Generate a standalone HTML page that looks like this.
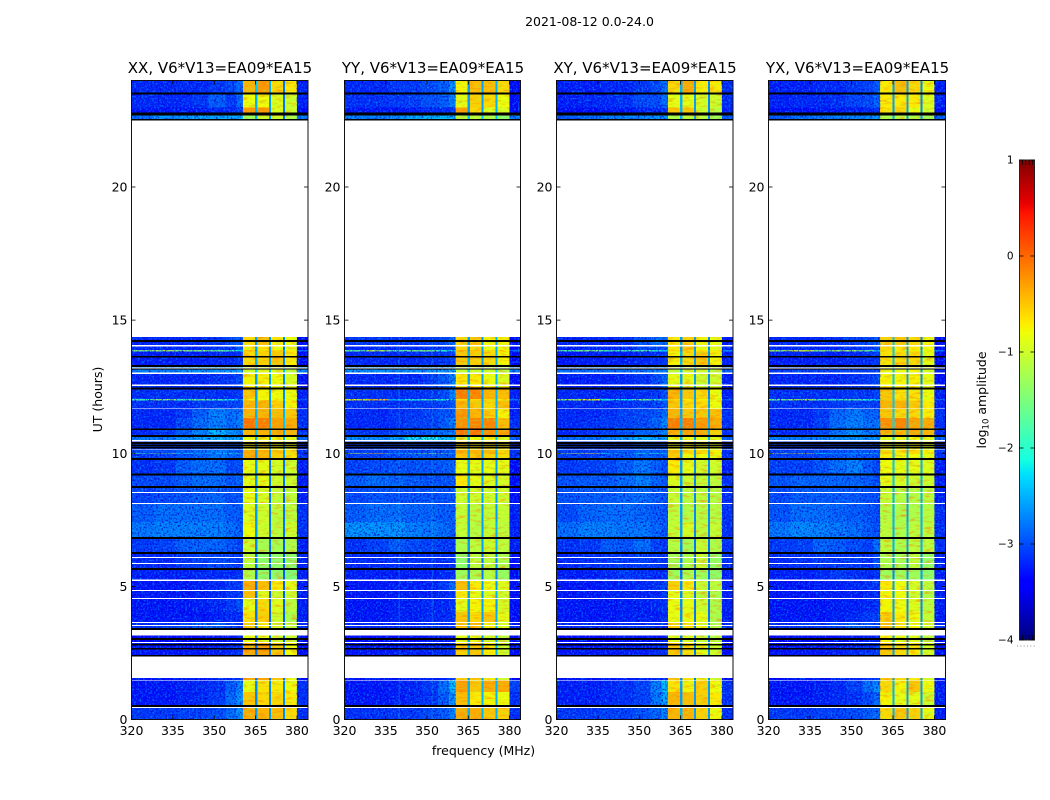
<!DOCTYPE html>
<html lang="en">
<head>
<meta charset="utf-8">
<title>2021-08-12 waterfall</title>
<style>
html,body{margin:0;padding:0;background:#fff;width:1050px;height:800px;overflow:hidden}
svg{display:block}
text{font-family:"DejaVu Sans","Liberation Sans",sans-serif;fill:#000}
</style>
</head>
<body>
<svg id="figure" width="1050" height="800" viewBox="0 0 1050 800" xmlns="http://www.w3.org/2000/svg">
  <defs>
    <filter id="grain-dark" x="0" y="0" width="1" height="1" color-interpolation-filters="sRGB">
      <feTurbulence type="fractalNoise" baseFrequency="0.55" numOctaves="2" seed="3"/>
      <feColorMatrix type="matrix" values="0 0 0 0 0  0 0 0 0 0  0 0 0 0 0.8  2.4 0 0 0 -1.05"/>
    </filter>
    <filter id="grain-light" x="0" y="0" width="1" height="1" color-interpolation-filters="sRGB">
      <feTurbulence type="fractalNoise" baseFrequency="0.55" numOctaves="2" seed="11"/>
      <feColorMatrix type="matrix" values="0 0 0 0 0  0 0 0 0 0.65  0 0 0 0 1  0 2.2 0 0 -1.1"/>
    </filter>
    <filter id="grain-warm" x="0" y="0" width="1" height="1" color-interpolation-filters="sRGB">
      <feTurbulence type="fractalNoise" baseFrequency="0.12 0.4" numOctaves="2" seed="7"/>
      <feColorMatrix type="matrix" values="0 0 0 0 1  0 0 0 0 0.45  0 0 0 0 0  1.6 0 0 0 -0.8"/>
    </filter>
    <filter id="grain-cool" x="0" y="0" width="1" height="1" color-interpolation-filters="sRGB">
      <feTurbulence type="fractalNoise" baseFrequency="0.3 0.5" numOctaves="2" seed="19"/>
      <feColorMatrix type="matrix" values="0 0 0 0 0.45  0 0 0 0 1  0 0 0 0 0.35  0 1.5 0 0 -0.78"/>
    </filter>
  </defs>
  <text x="589.5" y="26" text-anchor="middle" font-size="12.5">2021-08-12 0.0-24.0</text>
  <text x="220" y="73" text-anchor="middle" font-size="15">XX, V6*V13=EA09*EA15</text>
  <text x="433" y="73" text-anchor="middle" font-size="15">YY, V6*V13=EA09*EA15</text>
  <text x="645" y="73" text-anchor="middle" font-size="15">XY, V6*V13=EA09*EA15</text>
  <text x="857.5" y="73" text-anchor="middle" font-size="15">YX, V6*V13=EA09*EA15</text>
  <text transform="translate(102,399.5) rotate(-90)" text-anchor="middle" font-size="12.5">UT (hours)</text>
  <text x="483.5" y="755" text-anchor="middle" font-size="12.5">frequency (MHz)</text>
  <text transform="translate(986,400) rotate(-90)" text-anchor="middle" font-size="12.5">log<tspan font-size="8.5" dy="2.5">10</tspan><tspan dy="-2.5"> amplitude</tspan></text>
  <g id="panels"></g>
  <g id="colorbar"></g>
</svg>
<script>
// Time-row edges in UT hours (top to bottom)
const timeEdges = [24,23.52,22.99,22.80,14.36,14.02,13.87,13.83,13.31,13.04,12.48,12.03,11.99,11.69,11.32,10.94,10.68,10.46,10.12,10.00,9.97,9.82,9.25,8.77,8.13,7.41,6.85,6.29,5.69,5.24,4.86,4.56,4.04,3.66,3.40,2.91,1.48,1.03,0.54,0];
// Frequency-column edges in MHz
const freqEdges = [320,328,336,342,348,354,358,360.4,364.8,365.6,369.9,370.6,374.9,375.7,380,384];
// Per-column correction of the block estimates, in log10 amplitude
const columnBias = [-0.2,-0.2,-0.2,-0.2,-0.2,-0.2,-0.2,0,-0.6,0,-0.6,0,-0.5,0,-0.15];
// Tick labels
const freqTicks = [320,335,350,365,380];
const timeTicks = [0,5,10,15,20];
const colorTicks = [1,0,-1,-2,-3,-4];
// Faint narrow-band interference seen only in the YY panel, MHz
const yyInterference = [339.7,351.7];
// Flagged time ranges [start, end] in UT hours
const blackFlags = [[23.54,23.49],[22.80,22.70],[22.56,22.52],[14.25,14.20],[13.65,13.61],[13.31,13.26],[13.19,13.17],[12.47,12.42],[10.93,10.89],[10.68,10.64],[10.42,10.37],[10.32,10.28],[10.23,10.20],[9.82,9.77],[9.24,9.19],[8.77,8.72],[6.85,6.80],[6.29,6.24],[5.69,5.64],[3.43,3.39],[3.06,3.01],[2.83,2.80],[2.68,2.65],[2.43,2.38],[0.54,0.50]];
const whiteFlags = [[22.52,14.36],[14.06,14.01],[13.23,13.19],[13.04,12.97],[12.58,12.53],[11.69,11.66],[10.49,10.45],[10.15,10.12],[8.54,8.50],[8.13,8.09],[6.10,6.06],[5.87,5.84],[5.25,5.21],[4.86,4.82],[4.56,4.52],[3.66,3.62],[3.55,3.51],[3.37,3.16],[2.91,2.87],[2.37,1.55],[1.49,1.46],[0.47,0.43]];

// log10 amplitude: one row per time interval, one value per frequency column
const xxCells = [
[-3.0,-3.0,-3.0,-3.0,-2.9,-2.8,-2.6,-0.4,-1.8,-0.25,-1.9,-0.6,-2.3,-0.7,-3.1],
[-3.0,-3.0,-3.0,-2.9,-2.7,-2.9,-2.6,-0.8,-1.9,-0.8,-2.0,-0.9,-2.3,-1.0,-3.1],
[-3.1,-3.1,-3.1,-3.1,-3.0,-3.0,-2.9,-0.25,-1.9,-0.25,-2.0,-0.9,-2.3,-1.0,-3.2],
[-2.6,-2.4,-2.4,-2.3,-2.3,-2.3,-2.2,-1.3,-1.9,-1.0,-2.0,-1.0,-2.3,-1.2,-2.6],
[-3.0,-3.0,-3.0,-3.0,-2.9,-2.8,-2.7,-0.6,-2.0,-0.45,-2.0,-0.7,-2.2,-0.8,-3.2],
[-3.0,-3.0,-3.0,-3.0,-2.9,-2.9,-2.8,-0.7,-2.0,-0.7,-2.0,-0.8,-2.3,-0.9,-3.2],
[-1.2,-1.0,-1.2,-1.2,-1.4,-1.6,-2.0,-0.5,-2.0,-0.6,-2.0,-0.6,-2.0,-0.7,-2.6],
[-3.05,-3.05,-3.05,-3.05,-3.0,-3.0,-2.9,-0.6,-1.9,-0.55,-2.0,-0.5,-2.2,-0.7,-3.2],
[-2.5,-2.5,-2.4,-2.4,-2.4,-2.4,-2.3,-1.0,-1.7,-0.9,-1.8,-0.9,-1.9,-1.1,-2.5],
[-3.0,-3.0,-3.0,-3.0,-2.95,-2.9,-2.8,-0.75,-2.0,-0.75,-2.0,-0.8,-2.2,-0.95,-3.2],
[-2.95,-2.95,-2.95,-2.95,-2.95,-2.95,-2.9,-0.5,-2.0,-0.75,-2.0,-0.8,-2.2,-0.8,-3.1],
[-1.6,-1.2,-1.6,-1.4,-1.6,-2.0,-2.3,-0.7,-2.0,-0.8,-2.0,-0.8,-2.0,-0.8,-2.8],
[-2.95,-2.95,-2.95,-2.9,-2.85,-2.85,-2.8,-0.4,-1.9,-0.4,-2.0,-0.55,-2.2,-0.75,-3.1],
[-3.0,-3.0,-2.9,-2.7,-2.5,-2.6,-2.5,-0.4,-1.9,-0.4,-2.0,-0.45,-2.0,-0.5,-3.0],
[-3.0,-3.0,-2.8,-2.6,-2.5,-2.6,-2.5,-0.05,-1.8,-0.1,-1.9,-0.3,-1.9,-0.35,-3.0],
[-3.0,-2.9,-2.7,-2.5,-2.2,-2.4,-2.5,-0.4,-1.8,-0.4,-1.9,-0.35,-2.0,-0.4,-3.0],
[-2.5,-2.5,-2.4,-2.3,-2.2,-2.3,-2.3,-0.8,-1.9,-0.75,-2.0,-0.8,-2.0,-0.85,-2.7],
[-2.9,-2.9,-2.9,-2.8,-2.7,-2.8,-2.8,-0.7,-2.0,-0.7,-2.0,-0.75,-2.1,-0.8,-3.0],
[-2.8,-2.8,-2.7,-2.6,-2.5,-2.6,-2.7,-0.35,-2.0,-0.4,-2.0,-0.5,-2.1,-0.6,-3.0],
[-1.4,-1.0,-2.0,-2.2,-2.2,-1.8,-1.6,-0.4,-2.0,-0.45,-2.0,-0.5,-2.1,-0.6,-3.0],
[-2.9,-2.85,-2.75,-2.65,-2.55,-2.65,-2.7,-0.35,-2.0,-0.4,-2.0,-0.55,-2.1,-0.65,-3.0],
[-2.95,-2.9,-2.7,-2.6,-2.6,-2.8,-2.8,-0.85,-2.0,-0.85,-2.2,-0.95,-2.3,-1.0,-3.1],
[-2.8,-2.8,-2.7,-2.6,-2.6,-2.7,-2.7,-0.85,-2.0,-0.85,-2.2,-1.0,-2.3,-1.0,-3.1],
[-2.85,-2.8,-2.75,-2.7,-2.65,-2.75,-2.75,-0.85,-2.0,-0.95,-2.2,-1.05,-2.4,-1.1,-3.1],
[-2.7,-2.6,-2.6,-2.6,-2.6,-2.7,-2.7,-0.9,-2.0,-1.0,-2.2,-1.1,-2.3,-1.1,-3.0],
[-2.55,-2.5,-2.5,-2.5,-2.5,-2.6,-2.7,-0.8,-2.0,-1.0,-2.2,-1.1,-2.3,-1.0,-3.0],
[-2.9,-2.85,-2.7,-2.65,-2.65,-2.75,-2.85,-1.0,-2.1,-1.25,-2.2,-1.25,-2.4,-1.2,-3.1],
[-3.0,-3.0,-2.9,-2.85,-2.8,-2.85,-2.9,-1.1,-2.2,-1.4,-2.3,-1.4,-2.4,-1.4,-3.1],
[-3.05,-3.05,-3.05,-3.0,-3.0,-3.0,-2.95,-1.2,-2.3,-1.4,-2.3,-1.4,-2.4,-1.5,-3.1],
[-3.1,-3.1,-3.1,-3.05,-3.0,-2.9,-2.85,-0.35,-2.2,-0.45,-2.3,-0.7,-2.4,-0.85,-3.1],
[-3.1,-3.1,-3.1,-3.05,-3.0,-2.95,-2.9,-0.45,-2.2,-0.9,-2.3,-1.0,-2.4,-1.0,-3.1],
[-3.1,-3.1,-3.1,-3.05,-3.0,-2.9,-2.8,-0.85,-2.2,-0.6,-2.3,-0.9,-2.4,-1.1,-3.1],
[-3.1,-3.1,-3.1,-3.1,-3.05,-3.0,-3.0,-0.65,-2.2,-0.55,-2.3,-1.0,-2.4,-1.2,-3.1],
[-2.95,-2.9,-2.85,-2.7,-2.7,-2.85,-2.95,-0.5,-2.2,-0.7,-2.2,-0.95,-2.3,-1.1,-3.0],
[-3.2,-3.2,-3.2,-3.2,-3.15,-3.1,-3.05,-0.8,-2.2,-0.85,-2.3,-1.0,-2.4,-1.0,-3.2],
[-3.1,-3.1,-3.1,-3.1,-3.05,-3.0,-2.9,-0.35,-2.2,-0.3,-2.2,-0.5,-2.3,-0.8,-3.2],
[-3.1,-3.1,-3.05,-3.0,-2.95,-2.7,-2.5,-0.85,-2.1,-0.65,-2.1,-0.7,-2.2,-0.8,-3.0],
[-3.1,-3.1,-3.05,-3.0,-2.9,-2.6,-2.4,-0.5,-2.1,-0.6,-2.1,-0.6,-2.2,-0.7,-3.0],
[-2.9,-2.9,-2.85,-2.85,-2.8,-2.6,-2.4,-0.35,-2.0,-0.4,-2.0,-0.45,-2.2,-0.6,-3.0]
];
const yyCells = [
[-3.0,-3.0,-2.9,-2.9,-2.8,-2.7,-2.4,-0.75,-2.0,-0.45,-2.0,-0.45,-2.0,-0.6,-3.2],
[-2.95,-2.95,-2.9,-2.85,-2.75,-2.7,-2.5,-0.85,-2.0,-0.55,-2.0,-0.6,-2.0,-0.8,-3.2],
[-3.1,-3.1,-3.1,-3.05,-3.0,-3.0,-2.9,-0.3,-2.0,-0.6,-2.0,-0.9,-2.0,-0.9,-3.2],
[-2.5,-2.5,-2.4,-2.3,-2.2,-2.2,-2.2,-1.1,-1.8,-1.1,-1.8,-1.2,-1.9,-1.4,-2.6],
[-2.9,-2.9,-2.9,-2.9,-2.85,-2.8,-2.6,-0.6,-2.0,-0.5,-2.0,-0.75,-2.0,-0.75,-3.2],
[-3.0,-3.0,-3.0,-3.0,-2.95,-2.9,-2.8,-0.6,-2.0,-0.6,-2.0,-0.8,-2.0,-0.85,-3.2],
[-1.4,-0.9,-1.5,-1.3,-1.3,-1.8,-2.1,-0.5,-2.0,-0.5,-2.0,-0.6,-2.0,-0.7,-2.6],
[-3.0,-3.0,-3.0,-3.0,-2.95,-2.9,-2.85,-0.5,-1.9,-0.55,-2.0,-0.6,-2.0,-0.75,-3.2],
[-2.4,-2.4,-2.4,-2.4,-2.4,-2.35,-2.3,-1.05,-1.7,-1.0,-1.8,-1.0,-1.8,-1.1,-2.5],
[-3.0,-3.0,-3.0,-3.0,-2.9,-2.7,-2.5,-0.7,-2.0,-0.7,-2.0,-0.8,-2.0,-0.9,-3.2],
[-2.95,-2.95,-2.95,-2.95,-2.9,-2.8,-2.5,-0.1,-1.9,-0.15,-2.0,-0.4,-2.0,-0.45,-3.1],
[-0.6,-0.3,-2.2,-1.8,-1.6,-1.8,-2.3,-0.6,-2.0,-0.6,-2.0,-0.6,-2.0,-0.7,-2.6],
[-2.95,-2.95,-2.95,-2.9,-2.9,-2.85,-2.7,-0.4,-1.9,-0.5,-2.0,-0.6,-2.0,-0.45,-3.1],
[-3.0,-3.0,-2.95,-2.9,-2.85,-2.75,-2.7,-0.25,-1.9,-0.4,-2.0,-0.55,-2.0,-0.75,-3.1],
[-3.0,-3.0,-2.95,-2.85,-2.85,-2.7,-2.5,-0.2,-1.8,-0.15,-1.9,-0.15,-1.9,-0.45,-3.0],
[-2.9,-2.9,-2.8,-2.75,-2.7,-2.6,-2.5,-0.05,-1.8,-0.05,-1.8,-0.2,-1.9,-0.3,-3.0],
[-2.4,-2.4,-2.3,-2.0,-1.9,-2.1,-2.2,-0.9,-1.8,-0.8,-1.9,-0.8,-1.9,-0.9,-2.7],
[-2.9,-2.9,-2.9,-2.85,-2.85,-2.85,-2.8,-0.6,-1.9,-0.6,-2.0,-0.6,-2.0,-0.7,-3.0],
[-2.85,-2.85,-2.8,-2.8,-2.8,-2.75,-2.7,-0.35,-1.9,-0.4,-2.0,-0.4,-2.0,-0.6,-3.0],
[-0.7,-0.3,-2.2,-1.5,-1.0,-1.3,-2.0,-0.4,-1.9,-0.5,-2.0,-0.5,-2.0,-0.6,-2.9],
[-2.85,-2.85,-2.8,-2.75,-2.75,-2.7,-2.7,-0.5,-1.9,-0.5,-2.0,-0.55,-2.0,-0.6,-3.0],
[-2.85,-2.8,-2.75,-2.75,-2.75,-2.7,-2.65,-0.85,-1.9,-0.85,-2.0,-0.85,-2.1,-0.85,-3.2],
[-2.7,-2.6,-2.65,-2.7,-2.75,-2.75,-2.7,-0.7,-1.9,-0.85,-2.0,-0.9,-2.1,-0.95,-3.2],
[-2.8,-2.75,-2.75,-2.75,-2.75,-2.75,-2.7,-1.0,-1.9,-1.0,-2.0,-1.0,-2.1,-1.0,-3.2],
[-2.7,-2.6,-2.6,-2.65,-2.65,-2.7,-2.7,-1.05,-2.0,-1.1,-2.0,-1.05,-2.1,-1.05,-3.1],
[-2.4,-2.4,-2.4,-2.5,-2.55,-2.6,-2.7,-1.05,-2.0,-1.15,-2.0,-1.05,-2.0,-1.1,-3.1],
[-2.95,-2.85,-2.7,-2.8,-2.85,-2.9,-2.9,-1.2,-2.0,-1.1,-2.0,-1.0,-2.0,-1.1,-3.1],
[-3.0,-3.0,-2.95,-2.95,-2.95,-2.95,-2.95,-1.4,-2.2,-1.1,-2.2,-1.1,-2.2,-1.2,-3.2],
[-3.05,-3.05,-3.05,-3.05,-3.05,-3.0,-2.95,-1.3,-2.2,-1.2,-2.2,-1.15,-2.2,-1.35,-3.2],
[-3.1,-3.1,-3.05,-3.05,-3.05,-2.9,-2.6,-0.45,-2.0,-0.7,-2.0,-0.8,-2.1,-0.9,-3.2],
[-3.1,-3.1,-3.05,-3.05,-3.05,-3.0,-2.9,-0.7,-2.0,-0.85,-2.0,-0.9,-2.0,-1.0,-3.2],
[-3.1,-3.1,-3.05,-3.05,-3.0,-3.0,-2.9,-0.85,-2.0,-0.75,-2.0,-0.75,-2.1,-0.95,-3.2],
[-3.1,-3.1,-3.05,-3.05,-3.0,-3.0,-2.95,-0.5,-2.0,-0.6,-2.0,-0.5,-2.0,-0.85,-3.2],
[-3.0,-3.0,-3.0,-3.0,-2.95,-2.95,-2.9,-0.5,-2.0,-0.45,-2.0,-0.75,-2.0,-0.9,-3.1],
[-3.2,-3.2,-3.15,-3.15,-3.1,-3.1,-3.05,-0.85,-2.0,-0.85,-2.1,-1.0,-2.1,-1.1,-3.2],
[-3.1,-3.1,-3.1,-3.05,-3.05,-3.0,-2.9,-0.55,-2.0,-0.5,-2.0,-0.7,-2.0,-1.0,-3.2],
[-3.1,-3.1,-3.05,-3.0,-2.9,-2.6,-2.2,-0.3,-1.9,-0.5,-1.9,-0.35,-2.0,-0.35,-2.9],
[-3.1,-3.1,-3.05,-3.0,-2.95,-2.7,-2.4,-0.45,-1.9,-0.7,-1.9,-0.75,-2.0,-0.8,-3.0],
[-2.95,-2.95,-2.9,-2.9,-2.8,-2.7,-2.5,-0.35,-1.9,-0.35,-1.9,-0.5,-2.0,-0.55,-3.0]
];
const xyCells = [
[-3.05,-3.05,-3.0,-3.0,-2.9,-2.8,-2.6,-0.6,-1.9,-0.35,-2.0,-0.7,-2.2,-0.7,-3.0],
[-3.05,-3.0,-3.0,-2.95,-2.8,-2.8,-2.6,-0.85,-1.9,-0.85,-2.0,-0.95,-2.2,-1.0,-3.0],
[-3.15,-3.15,-3.1,-3.1,-3.05,-3.0,-2.95,-0.5,-1.9,-0.5,-2.0,-1.0,-2.2,-1.1,-3.1],
[-2.7,-2.6,-2.5,-2.5,-2.45,-2.4,-2.4,-1.2,-1.9,-1.1,-2.0,-1.1,-2.2,-1.3,-2.7],
[-3.0,-3.0,-3.0,-2.95,-2.75,-2.6,-2.6,-0.7,-2.0,-0.55,-2.0,-0.75,-2.2,-0.8,-3.1],
[-3.05,-3.0,-3.0,-3.0,-2.85,-2.75,-2.7,-0.7,-2.0,-0.5,-2.0,-0.8,-2.2,-0.85,-3.1],
[-1.5,-1.2,-1.6,-1.6,-1.5,-1.8,-2.1,-0.6,-2.0,-0.6,-2.0,-0.7,-2.0,-0.7,-2.5],
[-3.1,-3.05,-3.05,-3.05,-3.0,-2.95,-2.9,-0.75,-1.9,-0.6,-2.0,-0.5,-2.1,-0.75,-3.1],
[-2.6,-2.6,-2.6,-2.6,-2.55,-2.5,-2.5,-1.1,-1.8,-1.0,-1.9,-1.0,-2.0,-1.1,-2.7],
[-3.05,-3.05,-3.05,-3.0,-2.95,-2.8,-2.6,-0.85,-2.0,-0.85,-2.0,-1.0,-2.2,-1.0,-3.1],
[-3.0,-3.0,-3.0,-3.0,-2.95,-2.9,-2.75,-0.4,-2.0,-0.5,-2.0,-0.6,-2.2,-0.8,-3.1],
[-1.0,-0.6,-1.8,-1.9,-1.3,-1.7,-2.1,-0.6,-2.0,-0.7,-2.0,-0.7,-2.0,-0.8,-2.7],
[-3.0,-3.0,-3.0,-2.95,-2.9,-2.85,-2.75,-0.5,-2.0,-0.6,-2.0,-0.6,-2.1,-0.8,-3.1],
[-3.0,-3.0,-2.95,-2.85,-2.8,-2.75,-2.6,-0.4,-2.0,-0.5,-2.0,-0.5,-2.1,-0.45,-3.0],
[-3.0,-2.95,-2.9,-2.85,-2.8,-2.65,-2.45,-0.1,-1.9,-0.1,-1.9,-0.25,-2.0,-0.35,-3.0],
[-3.0,-2.95,-2.85,-2.75,-2.65,-2.6,-2.5,-0.35,-1.9,-0.3,-2.0,-0.35,-2.0,-0.55,-3.0],
[-2.6,-2.55,-2.45,-2.35,-2.2,-2.3,-2.3,-0.85,-1.9,-0.8,-2.0,-0.85,-2.0,-0.9,-2.7],
[-2.9,-2.9,-2.9,-2.85,-2.75,-2.8,-2.8,-0.75,-2.0,-0.75,-2.0,-0.8,-2.1,-0.85,-3.0],
[-2.85,-2.85,-2.8,-2.75,-2.65,-2.7,-2.7,-0.45,-2.0,-0.6,-2.0,-0.6,-2.1,-0.75,-3.0],
[-0.8,-0.5,-1.9,-2.3,-1.8,-1.7,-2.0,-0.5,-2.0,-0.6,-2.0,-0.65,-2.1,-0.75,-3.0],
[-2.85,-2.85,-2.8,-2.75,-2.65,-2.7,-2.7,-0.55,-2.0,-0.75,-2.0,-0.8,-2.1,-0.85,-3.0],
[-2.9,-2.85,-2.8,-2.7,-2.55,-2.7,-2.8,-0.7,-2.0,-0.85,-2.1,-1.0,-2.2,-1.0,-3.1],
[-2.75,-2.7,-2.7,-2.6,-2.5,-2.65,-2.75,-0.9,-2.0,-1.0,-2.1,-1.05,-2.2,-1.1,-3.0],
[-2.75,-2.7,-2.7,-2.65,-2.6,-2.7,-2.75,-1.05,-2.0,-1.1,-2.1,-1.1,-2.2,-1.15,-3.0],
[-2.8,-2.65,-2.6,-2.6,-2.65,-2.7,-2.75,-1.1,-2.0,-1.15,-2.1,-1.15,-2.2,-1.15,-3.0],
[-2.6,-2.5,-2.5,-2.55,-2.55,-2.65,-2.75,-1.05,-2.0,-0.95,-2.1,-1.1,-2.2,-1.05,-3.0],
[-2.95,-2.9,-2.7,-2.75,-2.6,-2.85,-2.9,-1.15,-2.1,-1.25,-2.2,-1.05,-2.3,-1.2,-3.0],
[-3.0,-2.95,-2.9,-2.9,-2.85,-2.9,-2.95,-1.25,-2.1,-1.2,-2.2,-1.05,-2.3,-1.35,-3.0],
[-3.05,-3.05,-3.0,-2.9,-2.95,-3.0,-2.95,-1.3,-2.2,-1.2,-2.2,-1.3,-2.3,-1.4,-3.1],
[-3.1,-3.1,-3.05,-3.05,-3.0,-2.95,-2.85,-0.55,-2.1,-0.7,-2.2,-1.05,-2.3,-1.1,-3.1],
[-3.1,-3.1,-3.05,-3.05,-3.05,-3.0,-2.9,-0.85,-2.1,-0.9,-2.2,-1.1,-2.3,-1.2,-3.1],
[-3.1,-3.1,-3.1,-3.05,-3.05,-3.0,-2.95,-0.8,-2.1,-0.85,-2.2,-1.0,-2.3,-1.2,-3.1],
[-3.1,-3.1,-3.1,-3.05,-3.05,-3.05,-3.0,-0.85,-2.1,-0.8,-2.2,-0.85,-2.3,-1.2,-3.1],
[-3.0,-3.0,-3.0,-2.95,-2.95,-3.0,-3.0,-0.55,-2.1,-0.65,-2.2,-0.85,-2.2,-1.15,-3.0],
[-3.2,-3.2,-3.2,-3.15,-3.15,-3.1,-3.05,-0.85,-2.2,-0.95,-2.2,-1.05,-2.3,-1.15,-3.2],
[-3.1,-3.1,-3.1,-3.05,-3.05,-3.0,-2.95,-0.5,-2.1,-0.65,-2.2,-0.85,-2.2,-1.0,-3.2],
[-3.05,-3.05,-3.0,-2.95,-2.85,-2.5,-2.2,-0.65,-2.0,-0.75,-2.0,-0.55,-2.1,-0.8,-3.0],
[-3.05,-3.05,-3.0,-2.95,-2.85,-2.55,-2.3,-0.4,-2.0,-0.45,-2.0,-0.55,-2.1,-0.7,-3.0],
[-2.9,-2.9,-2.85,-2.85,-2.75,-2.65,-2.5,-0.4,-1.9,-0.4,-2.0,-0.55,-2.1,-0.8,-3.0]
];
const yxCells = [
[-3.05,-3.05,-3.0,-3.0,-2.9,-2.85,-2.7,-0.7,-2.0,-0.45,-2.0,-0.6,-2.2,-0.8,-3.1],
[-3.05,-3.0,-3.0,-2.95,-2.85,-2.8,-2.7,-0.7,-2.0,-0.7,-2.0,-0.7,-2.2,-0.9,-3.1],
[-3.15,-3.15,-3.1,-3.1,-3.05,-3.0,-2.95,-0.65,-2.0,-0.6,-2.0,-0.8,-2.2,-0.95,-3.2],
[-2.7,-2.6,-2.55,-2.5,-2.45,-2.45,-2.4,-1.2,-1.9,-1.1,-2.0,-1.15,-2.1,-1.3,-2.7],
[-3.0,-3.0,-3.0,-2.95,-2.85,-2.8,-2.7,-0.55,-1.8,-0.5,-2.0,-0.6,-2.2,-0.75,-3.2],
[-3.0,-3.0,-3.0,-3.0,-2.95,-2.9,-2.85,-0.6,-1.8,-0.7,-2.0,-0.7,-2.2,-0.8,-3.2],
[-1.0,-0.7,-1.2,-1.0,-1.1,-1.4,-2.1,-0.6,-1.8,-0.7,-1.9,-0.7,-2.0,-0.8,-2.6],
[-3.05,-3.05,-3.05,-3.05,-3.0,-2.95,-2.9,-0.65,-1.8,-0.6,-2.0,-0.6,-2.1,-0.85,-3.2],
[-2.9,-2.85,-2.85,-2.85,-2.85,-2.85,-2.85,-0.8,-1.8,-0.8,-1.9,-0.75,-2.1,-0.95,-3.1],
[-3.0,-3.0,-3.0,-3.0,-2.95,-2.9,-2.8,-0.75,-1.8,-0.75,-2.0,-0.75,-2.2,-0.85,-3.2],
[-2.95,-2.95,-2.95,-2.95,-2.9,-2.9,-2.85,-0.5,-1.8,-0.65,-2.0,-0.65,-2.2,-0.8,-3.1],
[-1.4,-1.0,-1.5,-1.6,-1.5,-1.8,-2.2,-0.5,-1.8,-0.6,-2.0,-0.7,-2.0,-0.75,-2.7],
[-2.95,-2.95,-2.95,-2.9,-2.85,-2.85,-2.85,-0.4,-1.8,-0.4,-2.0,-0.5,-2.1,-0.7,-3.1],
[-3.0,-3.0,-2.9,-2.65,-2.55,-2.65,-2.65,-0.5,-1.8,-0.6,-2.0,-0.6,-2.0,-0.7,-3.0],
[-3.0,-3.0,-2.85,-2.6,-2.5,-2.6,-2.55,-0.2,-1.7,-0.15,-1.9,-0.3,-1.9,-0.35,-3.0],
[-3.0,-2.95,-2.8,-2.55,-2.4,-2.55,-2.55,-0.4,-1.8,-0.4,-1.9,-0.35,-2.0,-0.4,-3.0],
[-2.5,-2.5,-2.45,-2.4,-2.35,-2.4,-2.4,-0.85,-1.8,-0.8,-1.9,-0.8,-1.9,-0.85,-2.7],
[-2.95,-2.9,-2.9,-2.85,-2.85,-2.85,-2.85,-0.75,-1.8,-0.75,-1.9,-0.75,-2.0,-0.85,-3.0],
[-2.85,-2.85,-2.8,-2.75,-2.7,-2.75,-2.75,-0.6,-1.8,-0.65,-1.9,-0.6,-2.0,-0.75,-3.0],
[-0.8,-0.5,-1.9,-2.2,-2.2,-1.6,-2.0,-0.6,-1.8,-0.7,-1.9,-0.7,-2.0,-0.8,-3.0],
[-2.85,-2.85,-2.8,-2.75,-2.7,-2.75,-2.75,-0.7,-1.8,-0.8,-1.9,-0.8,-2.0,-0.85,-3.0],
[-2.85,-2.85,-2.75,-2.6,-2.5,-2.7,-2.8,-0.8,-1.8,-0.85,-1.9,-0.85,-2.0,-0.9,-3.1],
[-2.75,-2.65,-2.65,-2.65,-2.65,-2.7,-2.8,-0.85,-1.8,-0.95,-1.9,-1.0,-2.0,-1.0,-3.1],
[-2.8,-2.7,-2.7,-2.7,-2.7,-2.75,-2.8,-1.05,-1.9,-1.15,-2.0,-1.15,-2.0,-1.1,-3.1],
[-2.75,-2.6,-2.6,-2.65,-2.7,-2.75,-2.8,-1.15,-1.9,-1.2,-2.0,-1.2,-2.0,-1.15,-3.0],
[-2.55,-2.45,-2.5,-2.55,-2.6,-2.7,-2.8,-1.1,-1.9,-1.2,-1.9,-1.1,-2.0,-1.1,-3.0],
[-2.9,-2.85,-2.65,-2.7,-2.8,-2.85,-2.6,-1.1,-1.9,-1.2,-2.0,-1.1,-2.0,-1.1,-3.0],
[-3.0,-2.95,-2.9,-2.9,-2.9,-2.95,-2.75,-1.2,-2.0,-1.25,-2.1,-1.1,-2.1,-1.35,-3.1],
[-3.05,-3.05,-3.0,-2.9,-2.95,-3.0,-2.95,-1.3,-2.1,-1.3,-2.1,-1.3,-2.1,-1.4,-3.1],
[-3.1,-3.1,-3.05,-3.05,-3.0,-2.95,-2.9,-0.7,-2.0,-0.8,-2.1,-0.95,-2.2,-1.1,-3.1],
[-3.1,-3.1,-3.05,-3.05,-3.05,-3.0,-2.95,-0.75,-2.0,-0.8,-2.1,-1.0,-2.2,-1.15,-3.1],
[-3.1,-3.1,-3.1,-3.05,-3.05,-3.0,-2.95,-0.75,-2.0,-0.8,-2.1,-0.9,-2.2,-1.1,-3.1],
[-3.1,-3.1,-3.1,-3.05,-3.0,-2.9,-2.85,-0.55,-2.0,-0.7,-2.1,-0.8,-2.2,-1.05,-3.1],
[-2.95,-2.9,-2.9,-2.8,-2.65,-2.75,-2.8,-0.45,-2.0,-0.65,-2.1,-0.8,-2.1,-0.95,-3.0],
[-3.2,-3.2,-3.15,-3.15,-3.1,-3.05,-3.05,-0.75,-2.0,-0.85,-2.1,-0.9,-2.2,-1.1,-3.2],
[-3.15,-3.1,-3.1,-3.05,-3.0,-2.95,-2.9,-0.5,-2.0,-0.6,-2.1,-0.7,-2.1,-0.95,-3.2],
[-3.1,-3.1,-3.05,-3.0,-2.85,-2.6,-2.45,-0.6,-1.9,-0.75,-2.0,-0.5,-2.1,-0.8,-3.1],
[-3.1,-3.1,-3.05,-3.0,-2.95,-2.8,-2.6,-0.75,-1.9,-0.85,-2.0,-0.85,-2.1,-1.0,-3.1],
[-2.9,-2.9,-2.85,-2.85,-2.8,-2.7,-2.6,-0.6,-1.9,-0.5,-2.0,-0.55,-2.1,-0.85,-3.1]
];
const panelCells = [xxCells, yyCells, xyCells, yxCells];
const panelNames = ['xx','yy','xy','yx'];

// Layout (not data)
const panelLeft = [131.5,344.5,556.5,768.5];
const panelRight = [308,520.5,733,945.5];
const plotTop = 80.5, plotBottom = 719.5;
const FREQ_MIN = 320, FREQ_MAX = 384, TIME_MIN = 0, TIME_MAX = 24, LOG_MIN = -4, LOG_MAX = 1;
const BAND_COLUMNS = [7,9,11,13];
const FLAG_LINE_PAD = 0.6;
const NS = 'http://www.w3.org/2000/svg';

function svgEl(tag, attrs, parent){
  const el = document.createElementNS(NS, tag);
  for (const k in attrs) el.setAttribute(k, attrs[k]);
  parent.appendChild(el);
  return el;
}
function yScale(h){ return plotBottom - (h - TIME_MIN) * (plotBottom - plotTop) / (TIME_MAX - TIME_MIN); }
function xScaleFor(i){
  return function(f){ return panelLeft[i] + (f - FREQ_MIN) * (panelRight[i] - panelLeft[i]) / (FREQ_MAX - FREQ_MIN); };
}
function lerp(stops, t){
  for (let i = 1; i < stops.length; i++){
    if (t <= stops[i][0]){
      const a = stops[i-1], b = stops[i];
      return a[1] + (b[1]-a[1]) * (t-a[0]) / (b[0]-a[0]);
    }
  }
  return stops[stops.length-1][1];
}
const jetR = [[0,0],[.35,0],[.66,1],[.89,1],[1,.5]];
const jetG = [[0,0],[.125,0],[.375,1],[.64,1],[.91,0],[1,0]];
const jetB = [[0,.5],[.11,1],[.34,1],[.65,0],[1,0]];
function jet(v){
  const t = Math.max(0, Math.min(1, (v - LOG_MIN) / (LOG_MAX - LOG_MIN)));
  return 'rgb(' + Math.round(255*lerp(jetR,t)) + ',' + Math.round(255*lerp(jetG,t)) + ',' + Math.round(255*lerp(jetB,t)) + ')';
}

const panelsRoot = document.getElementById('panels');
panelCells.forEach(function(cells, p){
  const x = xScaleFor(p);
  const g = svgEl('g', {}, panelsRoot);
  
  
  const heat = svgEl('g', {'shape-rendering':'crispEdges'}, g);
  
  
  cells.forEach(function(row, r){
    const y0 = yScale(timeEdges[r]), y1 = yScale(timeEdges[r+1]);
    row.forEach(function(v, c){
      const x0 = x(freqEdges[c]), x1 = x(freqEdges[c+1]);
      const cell = svgEl('rect', {x:x0, y:y0, width:x1-x0, height:y1-y0, fill:jet(v + columnBias[c])}, heat);
      
      
    });
  });
  if (panelNames[p] === 'yy'){
    yyInterference.forEach(function(f){
      const ln = svgEl('rect', {x:x(f), y:yScale(14.36), width:1, height:yScale(0)-yScale(14.36), fill:'#30d8e8', opacity:0.35}, g);
      
      
    });
  }
  // Non-data surface grain over the blocks: the noise of the original cannot be read cell by cell
  [[freqEdges[0],freqEdges[7]],[freqEdges[14],freqEdges[15]]].forEach(function(span){
    ['grain-dark','grain-light'].forEach(function(id){
      const grain = svgEl('rect', {x:x(span[0]), y:plotTop, width:x(span[1])-x(span[0]), height:plotBottom-plotTop, filter:'url(#'+id+')'}, g);
      
      
    });
  });
  BAND_COLUMNS.forEach(function(c){
    ['grain-warm','grain-cool'].forEach(function(id){
      const grain = svgEl('rect', {x:x(freqEdges[c]), y:plotTop, width:x(freqEdges[c+1])-x(freqEdges[c]), height:plotBottom-plotTop, filter:'url(#'+id+')'}, g);
      
      
    });
  });
  const flags = svgEl('g', {'shape-rendering':'crispEdges'}, g);
  
  
  whiteFlags.forEach(function(f){
    const band = svgEl('rect', {x:panelLeft[p], y:yScale(f[0]), width:panelRight[p]-panelLeft[p], height:yScale(f[1])-yScale(f[0]), fill:'#fff'}, flags);
    
    
  });
  blackFlags.forEach(function(f){
    const band = svgEl('rect', {x:panelLeft[p], y:yScale(f[0]), width:panelRight[p]-panelLeft[p], height:yScale(f[1])-yScale(f[0])+FLAG_LINE_PAD, fill:'#000'}, flags);
    
    
  });
  const frame = svgEl('rect', {x:panelLeft[p], y:plotTop, width:panelRight[p]-panelLeft[p], height:plotBottom-plotTop, fill:'none', stroke:'#111', 'stroke-width':1}, g);
  
  
  freqTicks.forEach(function(f){
    const px = x(f);
    const t1 = svgEl('line', {x1:px, x2:px, y1:plotBottom, y2:plotBottom-4, stroke:'#000', 'stroke-width':0.8}, g);
    
    
    const t2 = svgEl('line', {x1:px, x2:px, y1:plotTop, y2:plotTop+4, stroke:'#000', 'stroke-width':0.8}, g);
    
    
    const lab = svgEl('text', {x:px, y:735, 'text-anchor':'middle', 'font-size':12.5}, g);
    lab.textContent = String(f);
    
    
  });
  timeTicks.forEach(function(h){
    const py = yScale(h);
    const t1 = svgEl('line', {x1:panelLeft[p], x2:panelLeft[p]+4, y1:py, y2:py, stroke:'#000', 'stroke-width':0.8}, g);
    
    
    const t2 = svgEl('line', {x1:panelRight[p], x2:panelRight[p]-4, y1:py, y2:py, stroke:'#000', 'stroke-width':0.8}, g);
    
    
    const lab = svgEl('text', {x:panelLeft[p]-4, y:py+4.5, 'text-anchor':'end', 'font-size':12.5}, g);
    lab.textContent = String(h);
    
    
  });
});

// Colorbar
const cbRoot = document.getElementById('colorbar');
const cbLeft = 1019.5, cbRight = 1034.5, cbTop = 160, cbBottom = 640;
function cbY(v){ return cbBottom - (v - LOG_MIN) * (cbBottom - cbTop) / (LOG_MAX - LOG_MIN); }
const cbRamp = svgEl('g', {'shape-rendering':'crispEdges'}, cbRoot);


const cbSteps = 240;
for (let i = 0; i < cbSteps; i++){
  const v0 = LOG_MIN + (LOG_MAX - LOG_MIN) * i / cbSteps;
  const v1 = LOG_MIN + (LOG_MAX - LOG_MIN) * (i + 1) / cbSteps;
  const seg = svgEl('rect', {x:cbLeft, y:cbY(v1), width:cbRight-cbLeft, height:cbY(v0)-cbY(v1), fill:jet((v0+v1)/2)}, cbRamp);
  
  
}
const cbFrame = svgEl('rect', {x:cbLeft, y:cbTop, width:cbRight-cbLeft, height:cbBottom-cbTop, fill:'none', stroke:'#222', 'stroke-width':1}, cbRoot);


colorTicks.forEach(function(v){
  const py = cbY(v);
  const a = svgEl('line', {x1:cbLeft, x2:cbLeft+4, y1:py, y2:py, stroke:'#000', 'stroke-width':0.8}, cbRoot);
  
  
  const b = svgEl('line', {x1:cbRight, x2:cbRight-4, y1:py, y2:py, stroke:'#000', 'stroke-width':0.8}, cbRoot);
  
  
  const lab = svgEl('text', {x:1013.5, y:py+3.5, 'text-anchor':'end', 'font-size':10.5}, cbRoot);
  lab.textContent = v < 0 ? '\u2212' + Math.abs(v) : String(v);
  
  
});
for (let i = 0; i < 4; i++){
  const px = 1022.5 + i * 3.33;
  const topTick = svgEl('line', {x1:px, x2:px, y1:cbTop, y2:cbTop+5, stroke:'#000', 'stroke-width':0.7}, cbRoot);
  
  
  const botTick = svgEl('line', {x1:px, x2:px, y1:cbBottom-5, y2:cbBottom, stroke:'#000', 'stroke-width':0.7}, cbRoot);
  
  
}
for (let i = 0; i < 6; i++){
  const dot = svgEl('rect', {x:1017 + i * 3.33, y:645.5, width:1, height:1, fill:'#888'}, cbRoot);
  
  
}
</script>
</body>
</html>
